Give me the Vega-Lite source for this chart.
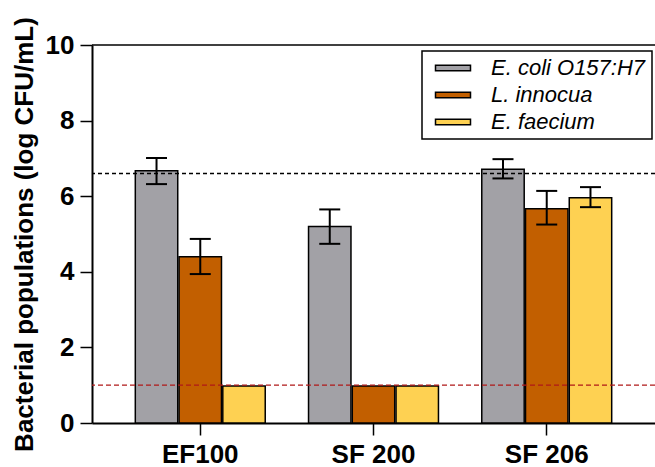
{
  "$schema": "https://vega.github.io/schema/vega-lite/v6.json",
  "width": 563,
  "height": 378,
  "autosize": {"type": "none"},
  "padding": {"left": 92, "top": 45, "right": 0, "bottom": 44},
  "background": "white",
  "config": {
    "view": {"stroke": null},
    "font": "Liberation Sans",
    "axis": {"domainColor": "black", "domainWidth": 2, "tickColor": "black", "tickWidth": 1.5, "tickSize": 12, "labelColor": "black", "labelFont": "Liberation Sans", "labelFontWeight": "bold", "labelFontSize": 26, "titleColor": "black", "titleFont": "Liberation Sans", "titleFontWeight": "bold", "titleFontSize": 26, "grid": false}
  },
  "datasets": {
    "bars": [
      {"treatment": "EF100", "organism": "E. coli O157:H7", "mean": 6.67, "lo": 6.32, "hi": 7.01},
      {"treatment": "EF100", "organism": "L. innocua", "mean": 4.40, "lo": 3.94, "hi": 4.87},
      {"treatment": "EF100", "organism": "E. faecium", "mean": 0.98, "lo": null, "hi": null},
      {"treatment": "SF 200", "organism": "E. coli O157:H7", "mean": 5.20, "lo": 4.74, "hi": 5.65},
      {"treatment": "SF 200", "organism": "L. innocua", "mean": 0.98, "lo": null, "hi": null},
      {"treatment": "SF 200", "organism": "E. faecium", "mean": 0.98, "lo": null, "hi": null},
      {"treatment": "SF 206", "organism": "E. coli O157:H7", "mean": 6.71, "lo": 6.47, "hi": 6.98},
      {"treatment": "SF 206", "organism": "L. innocua", "mean": 5.67, "lo": 5.25, "hi": 6.14},
      {"treatment": "SF 206", "organism": "E. faecium", "mean": 5.96, "lo": 5.71, "hi": 6.24}
    ],
    "refs": [
      {"level": 6.6, "kind": "initial"},
      {"level": 1.0, "kind": "limit"},
      {"level": 10, "kind": "frame"}
    ]
  },
  "layer": [
    {
      "data": {"name": "bars"},
      "mark": {"type": "bar", "stroke": "black", "strokeWidth": 1.5},
      "encoding": {
        "x": {"field": "treatment", "type": "nominal", "sort": ["EF100", "SF 200", "SF 206"], "scale": {"paddingInner": 0.25, "paddingOuter": 0.25}, "axis": {"title": null, "labelAngle": 0, "labelPadding": 6}},
        "xOffset": {"field": "organism", "type": "nominal", "sort": ["E. coli O157:H7", "L. innocua", "E. faecium"], "scale": {"paddingInner": 0.03, "paddingOuter": 0}},
        "y": {"field": "mean", "type": "quantitative", "scale": {"domain": [0, 10], "nice": false}, "axis": {"title": "Bacterial populations (log CFU/mL)", "values": [0, 2, 4, 6, 8, 10], "labelPadding": 6, "titlePadding": 8}},
        "color": {"field": "organism", "type": "nominal", "sort": ["E. coli O157:H7", "L. innocua", "E. faecium"], "scale": {"domain": ["E. coli O157:H7", "L. innocua", "E. faecium"], "range": ["#A2A1A6", "#C25F00", "#FED152"]}, "legend": {"title": null, "orient": "none", "legendX": 330, "legendY": 6, "strokeColor": "black", "fillColor": "white", "padding": 6, "labelFont": "Liberation Sans", "labelFontSize": 22, "labelFontStyle": "italic", "labelColor": "black", "labelLimit": 300, "symbolOffset": 14, "labelOffset": 27, "rowPadding": 5, "symbolType": "M-1.75,-0.27H1.75V0.27H-1.75Z", "symbolSize": 400, "symbolStrokeColor": "black", "symbolStrokeWidth": 1.5, "symbolOpacity": 1, "encode": {"legend": {"update": {"strokeWidth": {"value": 1.5}}}}}}
      }
    },
    {
      "data": {"name": "bars"},
      "transform": [{"filter": "datum.lo != null"}],
      "mark": {"type": "rule", "color": "black", "strokeWidth": 2},
      "encoding": {
        "x": {"field": "treatment", "type": "nominal", "sort": ["EF100", "SF 200", "SF 206"]},
        "xOffset": {"field": "organism", "type": "nominal", "sort": ["E. coli O157:H7", "L. innocua", "E. faecium"]},
        "y": {"field": "lo", "type": "quantitative"}, "y2": {"field": "hi"}
      }
    },
    {
      "data": {"name": "bars"},
      "transform": [{"filter": "datum.lo != null"}],
      "mark": {"type": "tick", "color": "black", "size": 21, "thickness": 2, "opacity": 1},
      "encoding": {
        "x": {"field": "treatment", "type": "nominal", "sort": ["EF100", "SF 200", "SF 206"]},
        "xOffset": {"field": "organism", "type": "nominal", "sort": ["E. coli O157:H7", "L. innocua", "E. faecium"]},
        "y": {"field": "lo", "type": "quantitative"}
      }
    },
    {
      "data": {"name": "bars"},
      "transform": [{"filter": "datum.hi != null"}],
      "mark": {"type": "tick", "color": "black", "size": 21, "thickness": 2, "opacity": 1},
      "encoding": {
        "x": {"field": "treatment", "type": "nominal", "sort": ["EF100", "SF 200", "SF 206"]},
        "xOffset": {"field": "organism", "type": "nominal", "sort": ["E. coli O157:H7", "L. innocua", "E. faecium"]},
        "y": {"field": "hi", "type": "quantitative"}
      }
    },
    {
      "data": {"name": "refs"},
      "transform": [{"filter": "datum.kind == 'initial'"}],
      "mark": {"type": "rule", "color": "black", "strokeWidth": 1.3, "strokeDash": [4, 3]},
      "encoding": {"y": {"field": "level", "type": "quantitative"}}
    },
    {
      "data": {"name": "refs"},
      "transform": [{"filter": "datum.kind == 'limit'"}],
      "mark": {"type": "rule", "color": "#B01818", "strokeWidth": 1.3, "strokeDash": [5, 3]},
      "encoding": {"y": {"field": "level", "type": "quantitative"}}
    },
    {
      "data": {"name": "refs"},
      "transform": [{"filter": "datum.kind == 'frame'"}],
      "mark": {"type": "rule", "color": "black", "strokeWidth": 1.5},
      "encoding": {"y": {"field": "level", "type": "quantitative"}}
    }
  ]
}
